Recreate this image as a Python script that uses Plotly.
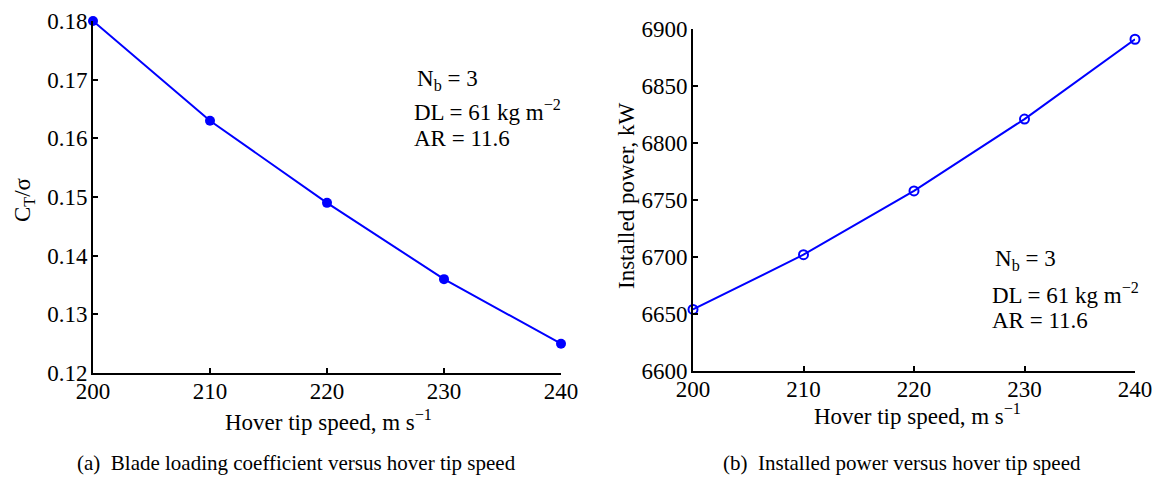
import plotly.graph_objects as go

tip_speed = [200, 210, 220, 230, 240]
ct_sigma = [0.180, 0.163, 0.149, 0.136, 0.125]
power_kw = [6654, 6702, 6758, 6821, 6891]

x_ticks = [200, 210, 220, 230, 240]
ct_ticks = [0.12, 0.13, 0.14, 0.15, 0.16, 0.17, 0.18]
ct_tick_text = ["0.12", "0.13", "0.14", "0.15", "0.16", "0.17", "0.18"]
pw_ticks = [6600, 6650, 6700, 6750, 6800, 6850, 6900]

FONT = "Liberation Serif"
BLUE = "#0000ff"
W, H = 1156, 480
FS = 23

fig = go.Figure()
fig.add_trace(go.Scatter(x=tip_speed, y=ct_sigma, mode="lines+markers",
                         line=dict(color=BLUE, width=2),
                         marker=dict(color=BLUE, size=10, symbol="circle"),
                         xaxis="x", yaxis="y", showlegend=False, cliponaxis=False))
fig.add_trace(go.Scatter(x=tip_speed, y=power_kw, mode="lines+markers",
                         line=dict(color=BLUE, width=2),
                         marker=dict(color=BLUE, size=9, symbol="circle-open", line=dict(width=2)),
                         xaxis="x2", yaxis="y2", showlegend=False, cliponaxis=False))

ax_common = dict(showgrid=False, zeroline=False, showline=True, linecolor="black", linewidth=2,
                 ticks="inside", ticklen=5, tickwidth=1.5, tickcolor="black", automargin=False,
                 tickfont=dict(family=FONT, size=FS, color="black"), mirror=False)

fig.update_layout(
    width=W, height=H, margin=dict(l=0, r=0, t=0, b=0),
    paper_bgcolor="white", plot_bgcolor="white",
    xaxis=dict(domain=[93 / W, 561 / W], range=[200, 240], tickvals=x_ticks, anchor="y",
               ticklabelstandoff=-4, **ax_common),
    yaxis=dict(domain=[1 - 373 / H, 1 - 21 / H], range=[0.12, 0.18], tickvals=ct_ticks,
               ticktext=ct_tick_text, anchor="x", ticklabelstandoff=-1, **ax_common),
    xaxis2=dict(domain=[693 / W, 1135 / W], range=[200, 240], tickvals=x_ticks, anchor="y2",
                ticklabelstandoff=-4, **ax_common),
    yaxis2=dict(domain=[1 - 371 / H, 1 - 29 / H], range=[6600, 6900], tickvals=pw_ticks,
                anchor="x2", ticklabelstandoff=-1, **ax_common),
)

def ann(text, x, y, size=FS, angle=0, xanchor="center"):
    fig.add_annotation(text=text, x=x / W, y=1 - y / H, xref="paper", yref="paper",
                       showarrow=False, textangle=angle, xanchor=xanchor, yanchor="middle",
                       font=dict(family=FONT, size=size, color="black"))

# axis titles
ann("Hover tip speed, m s<sup>−1</sup>", 329, 420)
ann("Hover tip speed, m s<sup>−1</sup>", 917, 414)
ann("C<sub>T</sub>/σ", 24, 200, angle=-90)
ann("Installed power, kW", 626, 196, angle=-90)

# parameter text boxes
for x0, ys in [(412, (80, 111, 138)), (990, (260, 293, 320))]:
    ann("N<sub>b</sub> = 3", x0 + 3, ys[0], xanchor="left")
    ann("DL = 61 kg m<sup>−2</sup>", x0, ys[1], xanchor="left")
    ann("AR = 11.6", x0, ys[2], xanchor="left")

# captions
ann("(a)  Blade loading coefficient versus hover tip speed", 296, 463, size=21)
ann("(b)  Installed power versus hover tip speed", 902, 463, size=21)

fig.write_html("out.html")
